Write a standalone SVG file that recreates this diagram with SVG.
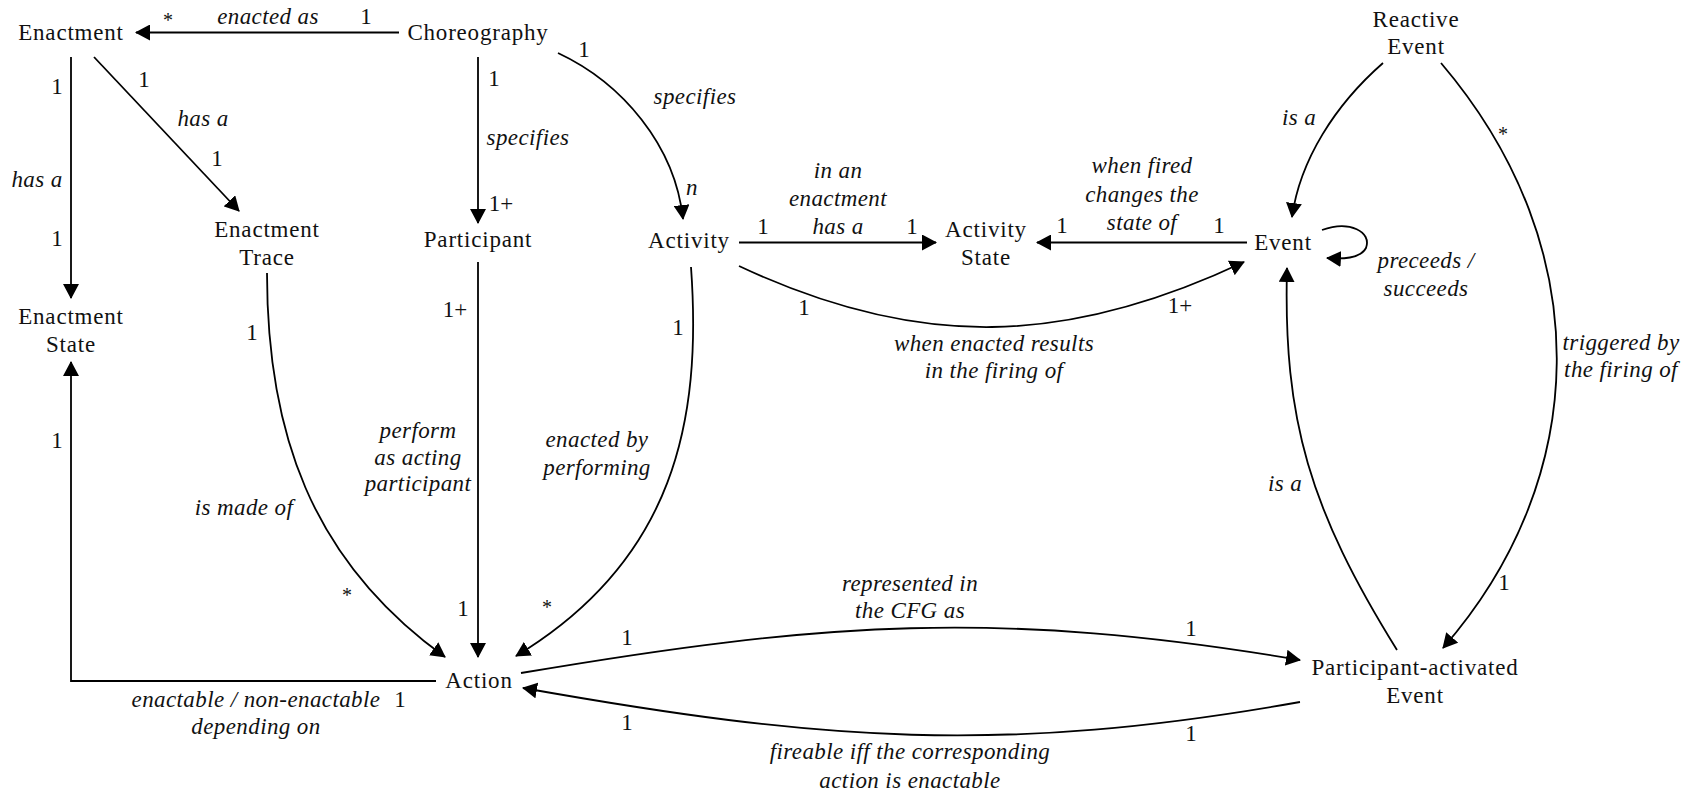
<svg xmlns="http://www.w3.org/2000/svg" width="1700" height="800" viewBox="0 0 1700 800">
  <style>
    text { font-family: 'Liberation Serif', 'Times New Roman', serif; font-size: 23px; fill: #111; text-anchor: middle; }
    .node { letter-spacing: 0.8px; }
    .lbl { font-style: italic; letter-spacing: 0.4px; }
    .star { font-size: 20px; }
    .edge { fill: none; stroke: #000; stroke-width: 1.8; }
    .arr { marker-end: url(#head); }
  </style>
  <defs>
    <marker id="head" markerUnits="userSpaceOnUse" markerWidth="16" markerHeight="16" refX="14" refY="8" orient="auto">
      <path d="M0,0 L15,8 L0,16 z" fill="#000"/>
    </marker>
  </defs>
  <rect width="1700" height="800" fill="#fff"/>

  <!-- connectors -->
  <g id="connectors">
    <path class="edge arr" d="M399,32.5 L136,32.5"/>
    <path class="edge arr" d="M71,57 L71,298"/>
    <path class="edge arr" d="M94,57 L239,211"/>
    <path class="edge arr" d="M478,57 L478,223"/>
    <path class="edge arr" d="M558,53 C622,83 675,145 683,219"/>
    <path class="edge arr" d="M478,262 L478,657"/>
    <path class="edge arr" d="M267,273 C267,430 310,560 445,657"/>
    <path class="edge arr" d="M691,267 C702,420 675,560 516,656"/>
    <path class="edge arr" d="M739,242.5 L936,242.5"/>
    <path class="edge arr" d="M1247,242.5 L1037,242.5"/>
    <path class="edge arr" d="M739,266 C918,350 1066,346 1244,262"/>
    <path class="edge arr" d="M1383,63 C1335,105 1300,160 1292,217"/>
    <path class="edge arr" d="M1441,63 C1600,250 1590,480 1443,648"/>
    <path class="edge arr" d="M1397,650 C1310,510 1283,420 1287,268"/>
    <path class="edge arr" d="M1322,230 C1350,220 1372,232 1366,248 C1360,259 1342,259 1327,258"/>
    <path class="edge arr" d="M521,673 C822,622 999,609 1300,660"/>
    <path class="edge arr" d="M1300,702 C1001,755 822,741 523,688"/>
    <path class="edge arr" d="M436,681 L71,681 L71,362"/>
  </g>

  <!-- connector labels -->
  <g id="labels">
    <text class="star" x="168" y="27">*</text>
    <text class="lbl" x="268" y="24">enacted as</text>
    <text x="366" y="24">1</text>

    <text x="57" y="94">1</text>
    <text class="lbl" x="37" y="187">has a</text>
    <text x="57" y="246">1</text>

    <text x="144" y="87">1</text>
    <text class="lbl" x="203" y="126">has a</text>
    <text x="217" y="166">1</text>

    <text x="494" y="86">1</text>
    <text class="lbl" x="528" y="145">specifies</text>
    <text x="501" y="211">1+</text>

    <text x="584" y="57">1</text>
    <text class="lbl" x="695" y="104">specifies</text>
    <text class="lbl" x="692" y="195">n</text>

    <text class="lbl" x="838" y="178">in an</text>
    <text class="lbl" x="838" y="206">enactment</text>
    <text class="lbl" x="838" y="234">has a</text>
    <text x="763" y="234">1</text>
    <text x="912" y="234">1</text>

    <text class="lbl" x="1142" y="173">when fired</text>
    <text class="lbl" x="1142" y="202">changes the</text>
    <text class="lbl" x="1142" y="230">state of</text>
    <text x="1062" y="233">1</text>
    <text x="1219" y="233">1</text>

    <text x="804" y="315">1</text>
    <text x="1180" y="313">1+</text>
    <text class="lbl" x="994" y="351">when enacted results</text>
    <text class="lbl" x="994" y="378">in the firing of</text>

    <text class="lbl" x="1299" y="125">is a</text>
    <text class="star" x="1503" y="141">*</text>
    <text class="lbl" x="1426" y="268">preceeds /</text>
    <text class="lbl" x="1426" y="296">succeeds</text>
    <text class="lbl" x="1621" y="350">triggered by</text>
    <text class="lbl" x="1621" y="377">the firing of</text>
    <text x="1504" y="590">1</text>
    <text class="lbl" x="1285" y="491">is a</text>

    <text x="455" y="317">1+</text>
    <text class="lbl" x="418" y="438">perform</text>
    <text class="lbl" x="418" y="465">as acting</text>
    <text class="lbl" x="418" y="491">participant</text>
    <text x="463" y="616">1</text>

    <text x="252" y="340">1</text>
    <text class="lbl" x="244" y="515">is made of</text>
    <text class="star" x="347" y="602">*</text>

    <text x="678" y="335">1</text>
    <text class="lbl" x="597" y="447">enacted by</text>
    <text class="lbl" x="597" y="475">performing</text>
    <text class="star" x="547" y="614">*</text>

    <text x="627" y="645">1</text>
    <text x="1191" y="636">1</text>
    <text class="lbl" x="910" y="591">represented in</text>
    <text class="lbl" x="910" y="618">the CFG as</text>

    <text x="627" y="730">1</text>
    <text x="1191" y="741">1</text>
    <text class="lbl" x="910" y="759">fireable iff the corresponding</text>
    <text class="lbl" x="910" y="788">action is enactable</text>

    <text class="lbl" x="256" y="707">enactable / non-enactable</text>
    <text x="400" y="707">1</text>
    <text class="lbl" x="256" y="734">depending on</text>
    <text x="57" y="448">1</text>
  </g>

  <!-- nodes -->
  <g id="enactment"><text class="node" x="71" y="40">Enactment</text></g>
  <g id="choreography"><text class="node" x="478" y="40">Choreography</text></g>
  <g id="enactment-trace"><text class="node" x="267" y="237">Enactment</text><text class="node" x="267" y="265">Trace</text></g>
  <g id="participant"><text class="node" x="478" y="247">Participant</text></g>
  <g id="activity"><text class="node" x="689" y="248">Activity</text></g>
  <g id="activity-state"><text class="node" x="986" y="237">Activity</text><text class="node" x="986" y="265">State</text></g>
  <g id="event"><text class="node" x="1283" y="250">Event</text></g>
  <g id="reactive-event"><text class="node" x="1416" y="27">Reactive</text><text class="node" x="1416" y="54">Event</text></g>
  <g id="enactment-state"><text class="node" x="71" y="324">Enactment</text><text class="node" x="71" y="352">State</text></g>
  <g id="action"><text class="node" x="479" y="688">Action</text></g>
  <g id="participant-activated-event"><text class="node" x="1415" y="675">Participant-activated</text><text class="node" x="1415" y="703">Event</text></g>
</svg>
